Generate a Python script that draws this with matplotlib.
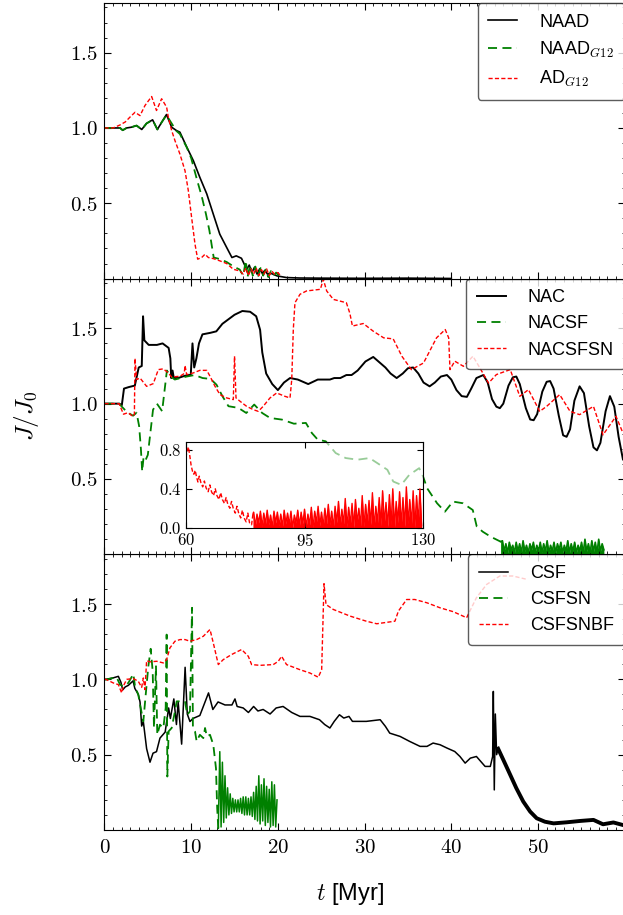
import matplotlib.pyplot as plt
import numpy as np
from matplotlib.ticker import MultipleLocator, FixedLocator, FuncFormatter

plt.rcParams['font.family'] = ['Liberation Sans', 'DejaVu Sans']
plt.rcParams['mathtext.fontset'] = 'cm'

# ---- data (t [Myr], J/J0) ----
x_ticks = [0, 10, 20, 30, 40, 50]
y_ticks = [0.5, 1.0, 1.5]
inset_x_ticks = [60, 95, 130]
inset_y_ticks = [0.0, 0.4, 0.8]

labels_top = ['NAAD', r'NAAD$_{G12}$', r'AD$_{G12}$']
labels_mid = ['NAC', 'NACSF', 'NACSFSN']
labels_bot = ['CSF', 'CSFSN', 'CSFSNBF']

naad = [(0, 1.0), (1.8, 1.0), (2.1, 0.985), (2.55, 1.0), (3.1, 1.005), (3.7, 1.016), (4.3, 0.99),
        (4.85, 1.03), (5.55, 1.054), (6.1, 0.99), (6.6, 1.038), (7.15, 1.089), (7.75, 1.005),
        (8.3, 0.983), (8.7, 0.972), (9.5, 0.872), (10.25, 0.783), (11.0, 0.672), (11.8, 0.562),
        (12.55, 0.428), (13.3, 0.295), (14.1, 0.206), (14.7, 0.14), (15.2, 0.151), (15.8, 0.135),
        (16.4, 0.062), (16.7, 0.09), (17.0, 0.04), (17.3, 0.075), (17.6, 0.03), (17.9, 0.065),
        (18.2, 0.035), (18.5, 0.055), (18.8, 0.03), (19.2, 0.035), (19.9, 0.018), (21.0, 0.007),
        (22.5, 0.004), (25, 0.003), (30, 0.002), (35, 0.003), (40, 0.001)]

naad_g12 = [(0, 1.0), (1.8, 1.0), (2.1, 0.985), (2.55, 1.0), (3.1, 1.005), (3.7, 1.016), (4.3, 0.99),
            (4.85, 1.03), (5.55, 1.054), (6.1, 0.99), (6.6, 1.038), (7.15, 1.085), (7.75, 1.03),
            (8.3, 0.98), (8.7, 0.96), (9.5, 0.87), (10.0, 0.80), (10.7, 0.65), (11.2, 0.55),
            (11.7, 0.43), (12.1, 0.32), (12.4, 0.21), (12.6, 0.14), (13.3, 0.13), (14.1, 0.11),
            (14.9, 0.08), (15.6, 0.06), (16.0, 0.02), (16.3, 0.12), (16.5, 0.01), (16.8, 0.09),
            (17.1, 0.02), (17.4, 0.08), (17.7, 0.01), (18.0, 0.07), (18.3, 0.02), (18.6, 0.06),
            (18.9, 0.01), (19.2, 0.05), (19.5, 0.02), (19.8, 0.04), (20.1, 0.02)]

ad_g12 = [(0, 1.0), (1.0, 1.0), (1.79, 1.02), (2.4, 1.04), (2.94, 1.072), (3.52, 1.104), (4.1, 1.082),
          (4.67, 1.149), (5.44, 1.209), (6.0, 1.116), (6.59, 1.194), (7.17, 1.138), (7.36, 1.072),
          (7.75, 0.983), (8.13, 0.916), (8.7, 0.827), (9.29, 0.716), (9.67, 0.584), (10.05, 0.406),
          (10.44, 0.229), (10.75, 0.129), (11.21, 0.14), (11.6, 0.162), (11.98, 0.14), (12.55, 0.133),
          (13.3, 0.118), (14.1, 0.10), (14.86, 0.062), (15.6, 0.051), (16.0, 0.03), (16.3, 0.07),
          (16.6, 0.02), (16.9, 0.065), (17.2, 0.03), (17.5, 0.07), (17.8, 0.02), (18.1, 0.06),
          (18.4, 0.03), (18.7, 0.065), (19.0, 0.02), (19.3, 0.05), (19.6, 0.03), (20.0, 0.04),
          (20.3, 0.02)]

nac = [(0, 1.0), (1.7, 1.0), (2.0, 0.99), (2.25, 1.10), (2.8, 1.11), (3.5, 1.12), (3.95, 1.24),
       (4.3, 1.25), (4.45, 1.58), (4.6, 1.42), (5.1, 1.39), (5.6, 1.39), (6.05, 1.39), (6.7, 1.40),
       (7.4, 1.37), (7.6, 1.30), (7.7, 1.17), (7.85, 1.22), (8.0, 1.17), (8.5, 1.17), (9.0, 1.18),
       (9.6, 1.19), (9.95, 1.19), (10.15, 1.40), (10.35, 1.24), (10.6, 1.30), (10.9, 1.40),
       (11.3, 1.46), (12.2, 1.47), (12.9, 1.48), (13.6, 1.53), (14.3, 1.56), (15.0, 1.59),
       (15.9, 1.615), (16.8, 1.61), (17.5, 1.58), (17.95, 1.49), (18.2, 1.34), (18.65, 1.20),
       (19.35, 1.13), (20.0, 1.09), (20.7, 1.14), (21.4, 1.17), (22.3, 1.16), (23.5, 1.13),
       (24.6, 1.16), (26.0, 1.16), (26.5, 1.17), (27.2, 1.17), (27.9, 1.19), (28.5, 1.19),
       (29.2, 1.22), (30.1, 1.28), (31.0, 1.31), (31.6, 1.28), (32.4, 1.24), (33.0, 1.20),
       (33.7, 1.17), (34.4, 1.20), (35.0, 1.235), (35.6, 1.24), (36.2, 1.20), (36.8, 1.14),
       (37.5, 1.115), (38.1, 1.14), (38.8, 1.18), (39.5, 1.19), (40.0, 1.16), (40.6, 1.09),
       (41.2, 1.05), (41.8, 1.045), (42.3, 1.10), (42.9, 1.17), (43.7, 1.19), (44.2, 1.14),
       (44.7, 1.03), (45.2, 0.98), (45.6, 0.97), (46.0, 1.00), (46.6, 1.12), (47.1, 1.175),
       (47.5, 1.18), (47.9, 1.13), (48.6, 0.97), (49.1, 0.895), (49.5, 0.89), (49.9, 0.93),
       (50.5, 1.08), (51.0, 1.145), (51.4, 1.15), (51.8, 1.10), (52.4, 0.92), (52.9, 0.79),
       (53.3, 0.78), (53.7, 0.83), (54.2, 1.02), (54.8, 1.115), (55.3, 1.07), (55.9, 0.85),
       (56.4, 0.71), (56.8, 0.69), (57.2, 0.74), (57.8, 0.95), (58.3, 1.05), (58.8, 0.98),
       (59.3, 0.78), (59.8, 0.63)]

nacsf = [(0, 1.0), (1.7, 1.0), (2.0, 0.98), (2.5, 0.95), (3.0, 0.93), (3.3, 0.92), (3.7, 0.94),
         (4.0, 0.85), (4.2, 0.70), (4.35, 0.55), (4.5, 0.64), (4.7, 0.62), (5.0, 0.66), (5.3, 0.81),
         (5.6, 0.96), (6.05, 1.0), (6.65, 0.95), (7.2, 1.22), (7.65, 1.18), (8.11, 1.16), (9.48, 1.18),
         (10.4, 1.19), (11.32, 1.17), (12.23, 1.164), (12.92, 1.126), (13.61, 1.049), (14.3, 0.983),
         (15.44, 0.972), (16.36, 0.938), (17.27, 0.994), (18.19, 0.938), (19.1, 0.905), (20.48, 0.894),
         (21.85, 0.867), (23.23, 0.872), (23.92, 0.805), (24.6, 0.761), (25.52, 0.75), (26.67, 0.672),
         (27.82, 0.639), (29.19, 0.628), (30.57, 0.639), (31.48, 0.605), (32.63, 0.561), (33.31, 0.483),
         (34.23, 0.461), (35.15, 0.527), (36.3, 0.572), (36.75, 0.516), (37.21, 0.439), (38.36, 0.339),
         (39.27, 0.283), (40.19, 0.35), (41.34, 0.339), (42.48, 0.294), (42.94, 0.184), (43.63, 0.15),
         (44.54, 0.117), (45.69, 0.084)]
# noisy tail of NACSF, 45.9 -> 57.6 Myr
nacsf_tail = [0.09, 0.02, 0.07, 0.01, 0.08, 0.03, 0.06, 0.01, 0.08, 0.02, 0.07, 0.01, 0.09, 0.02, 0.06,
              0.01, 0.07, 0.03, 0.08, 0.01, 0.06, 0.02, 0.08, 0.01, 0.07, 0.02, 0.09, 0.01, 0.06, 0.02,
              0.08, 0.01, 0.07, 0.03, 0.08, 0.01, 0.06, 0.02, 0.09, 0.01, 0.07, 0.02, 0.08, 0.01, 0.06,
              0.02, 0.08, 0.01, 0.10, 0.02, 0.07, 0.01, 0.09, 0.02, 0.08, 0.01, 0.10, 0.02, 0.07, 0.03]

nacsfsn = [(0, 1.0), (1.7, 1.0), (1.9, 0.97), (2.2, 0.93), (2.7, 0.94), (3.3, 0.915), (3.45, 0.93),
           (3.52, 1.30), (3.71, 1.16), (4.1, 1.17), (4.86, 1.115), (5.63, 1.133), (6.21, 1.226),
           (6.79, 1.231), (7.36, 1.204), (7.75, 1.177), (8.71, 1.182), (9.2, 1.20), (9.29, 1.253),
           (9.48, 1.193), (10.25, 1.204), (11.0, 1.221), (11.8, 1.221), (12.17, 1.182), (12.75, 1.115),
           (13.32, 1.06), (14.1, 1.038), (14.86, 1.027), (15.0, 1.315), (15.17, 1.038), (15.63, 1.016),
           (16.4, 0.982), (17.17, 0.96), (17.74, 0.949), (18.3, 0.982), (19.09, 1.038), (19.86, 1.071),
           (20.8, 1.049), (21.4, 1.038), (21.6, 1.16), (21.78, 1.493), (21.97, 1.67), (22.55, 1.726),
           (23.3, 1.748), (24.9, 1.759), (25.24, 1.825), (25.63, 1.748), (26.4, 1.692), (27.9, 1.67),
           (28.3, 1.60), (28.6, 1.515), (29.85, 1.532), (31.0, 1.481), (32.2, 1.437), (33.3, 1.43),
           (34.3, 1.315), (35.4, 1.226), (36.8, 1.27), (38.3, 1.437), (39.3, 1.492), (39.7, 1.437),
           (39.85, 1.226), (40.4, 1.282), (41.4, 1.248), (42.5, 1.315), (43.3, 1.237), (44.3, 1.137),
           (45.2, 1.193), (46.8, 1.226), (47.9, 1.049), (48.9, 1.093), (50.2, 0.949), (51.0, 0.982),
           (52.5, 1.06), (53.7, 0.949), (54.8, 0.927), (56.4, 0.982), (57.5, 0.793), (59.0, 0.916),
           (59.8, 0.805)]

# inset: NACSFSN continued, 60 -> 130 Myr
inset_decline = [(60.0, 0.72), (60.5, 0.80), (60.8, 0.83), (61.2, 0.74), (61.6, 0.64), (62.0, 0.58),
                 (62.4, 0.55), (62.8, 0.59), (63.2, 0.52), (63.6, 0.47), (64.0, 0.53), (64.5, 0.46),
                 (65.0, 0.42), (65.5, 0.48), (66.0, 0.41), (66.6, 0.37), (67.1, 0.44), (67.6, 0.37),
                 (68.2, 0.33), (68.7, 0.40), (69.2, 0.33), (69.8, 0.29), (70.3, 0.36), (70.8, 0.29),
                 (71.4, 0.25), (71.9, 0.31), (72.4, 0.24), (73.0, 0.20), (73.5, 0.27), (74.0, 0.20),
                 (74.6, 0.15), (75.1, 0.22), (75.6, 0.15), (76.2, 0.10), (76.7, 0.18), (77.2, 0.10),
                 (77.8, 0.06), (78.3, 0.15), (78.8, 0.05), (79.4, 0.03), (79.8, 0.14)]
inset_band_hi = [0.16, 0.14, 0.17, 0.15, 0.18, 0.13, 0.17, 0.16, 0.14, 0.18,
                 0.15, 0.17, 0.13, 0.18, 0.16, 0.19, 0.14, 0.21, 0.17, 0.22,
                 0.16, 0.20, 0.24, 0.17, 0.22, 0.27, 0.19, 0.30, 0.21, 0.25,
                 0.29, 0.20, 0.33, 0.24, 0.28, 0.36, 0.22, 0.31, 0.38, 0.26,
                 0.34, 0.40, 0.27, 0.37, 0.31, 0.42, 0.29, 0.38, 0.33, 0.40]
inset_band_lo = [0.02, 0.05, 0.01, 0.04, 0.03, 0.00, 0.05, 0.02, 0.01, 0.04,
                 0.03, 0.00, 0.05, 0.02, 0.04, 0.01, 0.03, 0.00, 0.05, 0.02,
                 0.01, 0.04, 0.03, 0.00, 0.05, 0.02, 0.04, 0.01, 0.03, 0.00,
                 0.05, 0.02, 0.01, 0.04, 0.03, 0.00, 0.05, 0.02, 0.04, 0.01,
                 0.03, 0.00, 0.05, 0.02, 0.01, 0.04, 0.03, 0.00, 0.05, 0.02]

csf = [(0, 1.0), (0.17, 1.0), (1.02, 1.01), (1.6, 1.02), (1.9, 0.98), (2.1, 0.93), (2.4, 0.95),
       (2.75, 0.96), (3.3, 0.99), (3.5, 0.94), (3.9, 0.90), (4.1, 0.85), (4.29, 0.69), (4.48, 0.72),
       (4.86, 0.54), (5.25, 0.45), (5.6, 0.51), (6.0, 0.52), (6.4, 0.61), (7.0, 0.65), (7.4, 0.81),
       (7.6, 0.74), (8.0, 0.87), (8.3, 0.70), (8.5, 0.85), (8.9, 0.57), (9.3, 1.08), (9.55, 0.77),
       (9.86, 0.72), (10.2, 0.74), (11.0, 0.76), (11.6, 0.85), (12.0, 0.91), (12.5, 0.80), (13.1, 0.85),
       (13.9, 0.83), (14.7, 0.83), (15.05, 0.87), (15.3, 0.82), (16.0, 0.81), (16.6, 0.78), (17.2, 0.82),
       (17.7, 0.79), (18.3, 0.80), (19.1, 0.77), (19.8, 0.81), (20.6, 0.82), (21.6, 0.78), (22.55, 0.754),
       (23.7, 0.754), (24.8, 0.732), (25.4, 0.70), (26.0, 0.677), (26.5, 0.721), (27.1, 0.765),
       (27.6, 0.743), (28.2, 0.754), (28.6, 0.721), (30.2, 0.721), (31.8, 0.732), (32.4, 0.688),
       (32.9, 0.643), (34.1, 0.621), (35.2, 0.588), (36.4, 0.555), (37.2, 0.555), (37.9, 0.577),
       (38.7, 0.566), (39.5, 0.544), (40.4, 0.521), (41.0, 0.488), (41.6, 0.444), (42.2, 0.477),
       (42.9, 0.488), (43.9, 0.422), (44.5, 0.422), (44.77, 0.488), (44.85, 0.92), (44.96, 0.266),
       (45.08, 0.77), (45.23, 0.50), (45.4, 0.54)]
csf_tail = [(45.4, 0.54), (46.0, 0.466), (46.8, 0.366), (47.5, 0.278), (48.3, 0.189), (49.1, 0.122),
            (49.85, 0.078), (50.8, 0.055), (51.8, 0.044), (53.3, 0.051), (54.85, 0.06), (56.4, 0.067),
            (57.5, 0.038), (58.7, 0.05), (59.8, 0.033)]

csfsn = [(0, 1.0), (0.17, 0.998), (1.4, 1.014), (1.79, 0.965), (2.17, 0.954), (2.75, 0.976),
         (3.33, 1.036), (3.52, 0.954), (3.9, 0.898), (4.29, 0.776), (4.48, 0.721), (4.79, 0.92),
         (5.06, 1.087), (5.33, 1.203), (5.56, 1.053), (5.71, 0.677), (5.94, 1.087), (6.09, 0.632),
         (6.4, 0.699), (6.79, 0.677), (7.06, 0.81), (7.17, 1.297), (7.25, 0.355), (7.4, 0.655),
         (7.75, 0.677), (8.13, 0.788), (8.33, 0.854), (8.9, 0.854), (9.29, 0.854), (9.55, 0.765),
         (9.86, 0.788), (10.1, 1.475), (10.2, 0.677), (10.44, 0.655), (10.63, 0.588), (11.0, 0.632),
         (11.4, 0.61), (11.6, 0.677), (11.8, 0.621), (12.17, 0.632), (12.55, 0.566), (12.86, 0.41),
         (13.0, 0.144), (13.13, 0.011)]
# oscillating tail of CSFSN, 13.3 -> 19.9 Myr
csfsn_tail = [0.52, 0.02, 0.45, 0.05, 0.36, 0.08, 0.28, 0.10, 0.24, 0.11, 0.21, 0.12, 0.20, 0.12, 0.20,
              0.12, 0.21, 0.11, 0.22, 0.10, 0.22, 0.10, 0.21, 0.10, 0.22, 0.09, 0.25, 0.07, 0.29, 0.06,
              0.36, 0.04, 0.30, 0.06, 0.34, 0.03, 0.29, 0.05, 0.27, 0.02, 0.32, 0.03, 0.30, 0.02, 0.20]

csfsnbf = [(0, 1.0), (0.17, 1.0), (1.02, 0.976), (1.6, 0.965), (1.98, 0.91), (2.17, 0.954), (2.56, 1.0),
           (3.33, 1.005), (3.9, 0.987), (4.29, 0.947), (4.48, 1.009), (4.67, 0.932), (4.86, 1.124),
           (5.25, 1.116), (6.02, 1.12), (6.79, 1.109), (7.17, 1.131), (7.55, 1.209), (8.13, 1.253),
           (8.71, 1.264), (9.29, 1.264), (9.86, 1.253), (10.63, 1.264), (11.4, 1.286), (12.17, 1.331),
           (12.55, 1.242), (13.13, 1.098), (13.7, 1.131), (14.67, 1.165), (15.82, 1.198), (16.59, 1.153),
           (16.97, 1.098), (17.94, 1.093), (19.47, 1.098), (20.05, 1.12), (20.43, 1.153), (21.0, 1.098),
           (22.55, 1.064), (23.7, 1.042), (24.66, 1.014), (25.05, 1.064), (25.32, 1.635), (25.55, 1.497),
           (26.39, 1.464), (28.32, 1.42), (30.2, 1.386), (31.4, 1.369), (33.5, 1.386), (33.9, 1.453),
           (34.85, 1.53), (35.8, 1.53), (37.2, 1.508), (38.7, 1.475), (40.23, 1.449), (41.77, 1.409),
           (42.9, 1.542), (44.08, 1.63), (45.6, 1.686), (47.1, 1.686), (48.7, 1.664)]


def split(pairs):
    t, j = zip(*pairs)
    return np.array(t), np.array(j)


# ---- figure ----
fig = plt.figure(figsize=(6.23, 9.15), dpi=100)
left, width, height, bottom = 0.1677, 0.835, 0.3013, 0.0929
ax3 = fig.add_axes([left, bottom, width, height])
ax2 = fig.add_axes([left, bottom + height, width, height])
ax1 = fig.add_axes([left, bottom + 2 * height, width, height])

green_dash = (5, 3)
red_dash = (3, 1.6)

# top panel
ax1.plot(*split(naad), color='k', lw=1.2, label=labels_top[0])
ax1.plot(*split(naad_g12), color='green', lw=1.3, dashes=green_dash, label=labels_top[1])
ax1.plot(*split(ad_g12), color='red', lw=1.0, dashes=red_dash, label=labels_top[2])

# middle panel
ax2.plot(*split(nac), color='k', lw=1.4, label=labels_mid[0])
t_sf, j_sf = split(nacsf)
ax2.plot(t_sf, j_sf, color='green', lw=1.3, dashes=green_dash, label=labels_mid[1])
t_sft = np.concatenate([t_sf[-1:], np.linspace(45.9, 57.6, len(nacsf_tail))])
j_sft = np.concatenate([j_sf[-1:], nacsf_tail])
ax2.plot(t_sft, j_sft, color='green', lw=1.2)
ax2.fill_between(t_sft, 0, j_sft, color='green', lw=0)
ax2.plot(*split(nacsfsn), color='red', lw=1.0, dashes=red_dash, label=labels_mid[2])

# bottom panel
ax3.plot(*split(csf), color='k', lw=1.1, label=labels_bot[0])
ax3.plot(*split(csf_tail), color='k', lw=2.8)
t_sn, j_sn = split(csfsn)
ax3.plot(t_sn, j_sn, color='green', lw=1.3, dashes=green_dash, label=labels_bot[1])
t_snt = np.concatenate([t_sn[-1:], np.linspace(13.3, 19.9, len(csfsn_tail))])
j_snt = np.concatenate([j_sn[-1:], csfsn_tail])
ax3.plot(t_snt, j_snt, color='green', lw=1.1)
ax3.plot(*split(csfsnbf), color='red', lw=1.0, dashes=red_dash, label=labels_bot[2])

xfmt = FuncFormatter(lambda v, _: f'${v:.0f}$')
yfmt = FuncFormatter(lambda v, _: f'${v:.1f}$')
for ax in (ax1, ax2, ax3):
    ax.set_xlim(0, 60)
    ax.set_ylim(0, 1.83)
    ax.xaxis.set_major_locator(FixedLocator(x_ticks))
    ax.xaxis.set_minor_locator(MultipleLocator(1))
    ax.yaxis.set_major_locator(FixedLocator(y_ticks))
    ax.yaxis.set_minor_locator(MultipleLocator(0.1))
    ax.xaxis.set_major_formatter(xfmt)
    ax.yaxis.set_major_formatter(yfmt)
    ax.tick_params(which='both', direction='in', top=True, right=True, labelsize=15)
    ax.tick_params(which='major', length=5, width=0.8)
    ax.tick_params(which='minor', length=2.5, width=0.6)
    ax.tick_params(axis='x', pad=6)
    ax.tick_params(axis='y', pad=5)
    ax.legend(loc='upper right', bbox_to_anchor=(1.0, 1.0), borderaxespad=0, fontsize=13,
              handlelength=1.6, handletextpad=1.2, labelspacing=0.5, borderpad=0.6,
              fancybox=True, framealpha=0.8, edgecolor='0.2')
ax1.tick_params(labelbottom=False)
ax2.tick_params(labelbottom=False)

# inset
axi = fig.add_axes([0.2981, 0.4233, 0.3814, 0.094])
axi.patch.set_facecolor('white')
axi.patch.set_alpha(0.6)
t_dec, j_dec = split(inset_decline)
axi.plot(t_dec, j_dec, color='red', lw=1.0, dashes=red_dash)
band = np.column_stack([inset_band_hi, inset_band_lo]).ravel()
t_band = np.concatenate([t_dec[-1:], np.linspace(80, 129.5, len(band))])
j_band = np.concatenate([j_dec[-1:], band])
axi.plot(t_band, j_band, color='red', lw=1.0)
axi.fill_between(t_band, 0, j_band, color='red', lw=0)
axi.set_xlim(60, 130)
axi.set_ylim(0, 0.885)
axi.xaxis.set_major_locator(FixedLocator(inset_x_ticks))
axi.yaxis.set_major_locator(FixedLocator(inset_y_ticks))
axi.xaxis.set_major_formatter(FuncFormatter(lambda v, _: f'${v:.0f}$'))
axi.yaxis.set_major_formatter(FuncFormatter(lambda v, _: f'${v:.1f}$'))
axi.tick_params(direction='in', top=True, right=True, labelsize=12, length=4, width=0.8)
axi.tick_params(axis='x', pad=3)
axi.tick_params(axis='y', pad=3)

fig.text(0.043, 0.545, r'$J/J_0$', rotation=90, fontsize=18, ha='center', va='center')
fig.text(0.561, 0.023, r'$t$ [Myr]', fontsize=17, ha='center', va='center')

fig.savefig('out.png', dpi=100)
